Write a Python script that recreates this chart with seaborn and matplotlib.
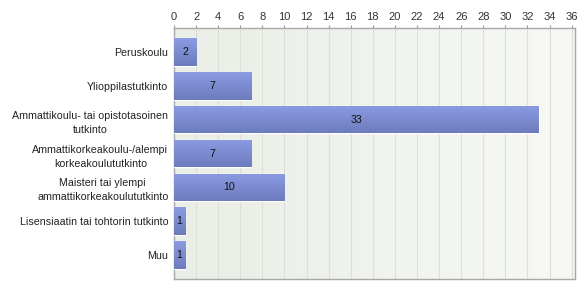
import numpy as np
import pandas as pd
import matplotlib
matplotlib.use("Agg")
import matplotlib.pyplot as plt
import seaborn as sns

categories = [
    "Peruskoulu",
    "Ylioppilastutkinto",
    "Ammattikoulu- tai opistotasoinen\ntutkinto",
    "Ammattikorkeakoulu-/alempi\nkorkeakoulututkinto",
    "Maisteri tai ylempi\nammattikorkeakoulututkinto",
    "Lisensiaatin tai tohtorin tutkinto",
    "Muu",
]
counts = [2, 7, 33, 7, 10, 1, 1]
xticks = list(range(0, 37, 2))

df = pd.DataFrame({"category": categories, "count": counts})

sns.set_style("white")
plt.rcParams["font.family"] = ["Liberation Sans", "DejaVu Sans"]

fig = plt.figure(figsize=(5.83, 2.86), dpi=100)
ax = fig.add_axes([174 / 583, 1 - 279 / 286, (575 - 174) / 583, (279 - 28) / 286])

# background gradient
bg = np.linspace(0, 1, 256).reshape(1, -1)
bg_cmap = matplotlib.colors.LinearSegmentedColormap.from_list("bg", ["#e9eee6", "#f7f8f5"])
ax.imshow(bg, cmap=bg_cmap, aspect="auto", extent=[0, 36.3, 6.7, -0.7], zorder=0)

sns.barplot(data=df, x="count", y="category", color="#7d8cd4", width=0.82,
            saturation=1, ax=ax, zorder=3)

# bar gradient
bar_cmap = matplotlib.colors.LinearSegmentedColormap.from_list("bar", ["#8b9be3", "#6d7cbd"])
grad = np.linspace(0, 1, 64).reshape(-1, 1)
for p, v in zip(ax.patches, counts):
    x0, y0 = p.get_x(), p.get_y()
    w, h = p.get_width(), p.get_height()
    im = ax.imshow(grad, cmap=bar_cmap, aspect="auto",
                   extent=[x0, x0 + w, y0 + h, y0], zorder=4)
    im.set_clip_path(p)
    ax.text(x0 + w / 2, y0 + h / 2, str(v), ha="center", va="center",
            fontsize=7.7, color="#111111", zorder=5)

ax.set_xlim(0, 36.3)
ax.set_ylim(6.7, -0.7)
ax.set_xticks(xticks)
ax.xaxis.tick_top()
ax.grid(axis="x", color="#dcdfda", linewidth=0.8, zorder=1)
ax.set_axisbelow(True)
ax.tick_params(axis="x", top=True, bottom=False, length=2.5, color="#999999",
               labelsize=8, labelcolor="#333333", pad=2)
ax.tick_params(axis="y", left=False, labelsize=7.7, labelcolor="#222222", pad=0.5)
for lbl in ax.get_yticklabels():
    lbl.set_multialignment("center")
    lbl.set_linespacing(1.5)
ax.set_xlabel("")
ax.set_ylabel("")
for s in ax.spines.values():
    s.set_color("#a8a8a8")
    s.set_linewidth(1)

fig.savefig("out.png", dpi=100)
